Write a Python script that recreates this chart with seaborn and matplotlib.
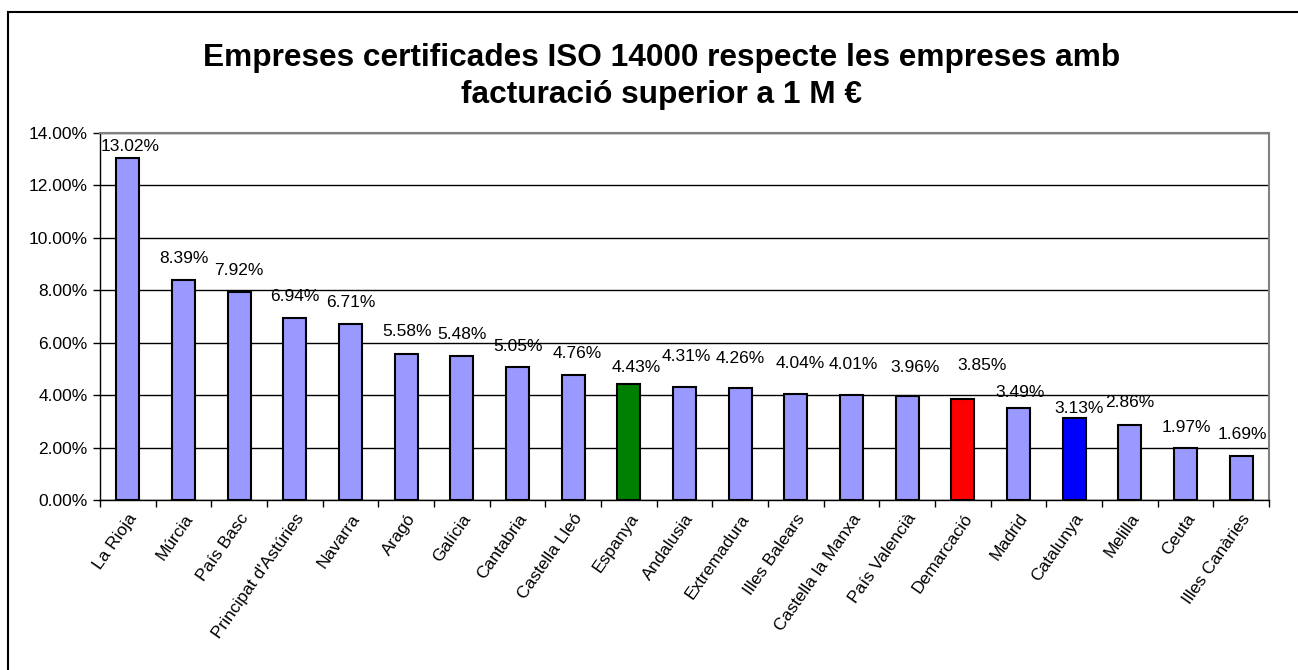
import matplotlib
matplotlib.use('Agg')
import matplotlib.pyplot as plt
import numpy as np
import pandas as pd
import seaborn as sns
from matplotlib.patches import Rectangle

# Dades del gràfic
regions = ['La Rioja', 'Múrcia', 'País Basc', "Principat d'Astúries", 'Navarra',
           'Aragó', 'Galícia', 'Cantabria', 'Castella Lleó', 'Espanya', 'Andalusia',
           'Extremadura', 'Illes Balears', 'Castella la Manxa', 'País Valencià',
           'Demarcació', 'Madrid', 'Catalunya', 'Melilla', 'Ceuta', 'Illes Canàries']
valors = [13.02, 8.39, 7.92, 6.94, 6.71, 5.58, 5.48, 5.05, 4.76, 4.43, 4.31,
          4.26, 4.04, 4.01, 3.96, 3.85, 3.49, 3.13, 2.86, 1.97, 1.69]
y_ticks = [0, 2, 4, 6, 8, 10, 12, 14]

# Colors: Espanya verd, Demarcació vermell, Catalunya blau
colors = ['#9999FF'] * len(regions)
colors[regions.index('Espanya')] = '#008000'
colors[regions.index('Demarcació')] = '#FF0000'
colors[regions.index('Catalunya')] = '#0000FF'

# Desplaçament de les etiquetes (px) com a l'original d'Excel
label_dx = [2.5, 0, 0, 0, 0, 1, 0, 1, 3.7, 7, 1.5, 0.5, 4, 2, 8, 19.5, 2, 5, -0.5, 1, 1.5]
label_dy = [11.5, 21, 22, 21.7, 21.3, 21.7, 22, 20.7, 21.7, 16, 30.7, 30, 30, 30.7,
            28.7, 33, 15.7, 9.7, 22.3, 21, 21]

sns.set_theme(style='white')
plt.rcParams['font.family'] = ['Liberation Sans', 'DejaVu Sans']
plt.rcParams['text.color'] = 'black'
plt.rcParams['xtick.color'] = 'black'
plt.rcParams['ytick.color'] = 'black'

df = pd.DataFrame({'regio': regions, 'valor': valors})

fig = plt.figure(figsize=(12.98, 6.70), dpi=100)
ax = fig.add_axes([0.077, 0.2537, 0.9006, 0.5485])

sns.barplot(data=df, x='regio', y='valor', hue='regio', palette=colors,
            saturation=1, width=0.41, edgecolor='black', linewidth=1.5,
            legend=False, ax=ax, zorder=3)

ax.set_xlim(-0.5, len(regions) - 0.5)
ax.set_ylim(0, 14)
ax.set_yticks(y_ticks)
ax.set_yticklabels([f'{t:.2f}%' for t in y_ticks], fontsize=12.5)
ax.yaxis.grid(True, color='black', linewidth=1)
ax.set_axisbelow(True)
ax.set_xlabel('')
ax.set_ylabel('')

# etiquetes de l'eix x
ax.set_xticks(range(len(regions)))
ax.set_xticklabels(regions, rotation=55, ha='right', rotation_mode='anchor', fontsize=12.5)
ax.tick_params(axis='x', which='major', length=0, pad=8)
ax.set_xticks(np.arange(-0.5, len(regions), 1), minor=True)
ax.tick_params(axis='x', which='minor', bottom=True, length=5, width=1, color='black', direction='out')
ax.tick_params(axis='y', left=True, length=5, width=1, color='black', direction='out', pad=4)

for side in ['top', 'right']:
    ax.spines[side].set_color('#808080')
    ax.spines[side].set_linewidth(1.5)
for side in ['left', 'bottom']:
    ax.spines[side].set_color('black')
    ax.spines[side].set_linewidth(1)

# etiquetes de dades
for i, v in enumerate(valors):
    ax.annotate(f'{v:.2f}%', xy=(i, v), xytext=(label_dx[i] * 0.72, label_dy[i] * 0.72),
                textcoords='offset points', ha='center', va='center', fontsize=12.5,
                color='black', zorder=5)

fig.text(0.51, 0.886, 'Empreses certificades ISO 14000 respecte les empreses amb\nfacturació superior a 1 M €',
         ha='center', va='center', fontsize=22.8, fontweight='bold', linespacing=1.3,
         color='black')

# marc exterior del gràfic
fig.patches.append(Rectangle((8 / 1298, -0.05), 1.1, 1 - 12 / 670 + 0.05,
                             transform=fig.transFigure, fill=False,
                             edgecolor='black', linewidth=1.5))

fig.savefig('out.png', dpi=100)
